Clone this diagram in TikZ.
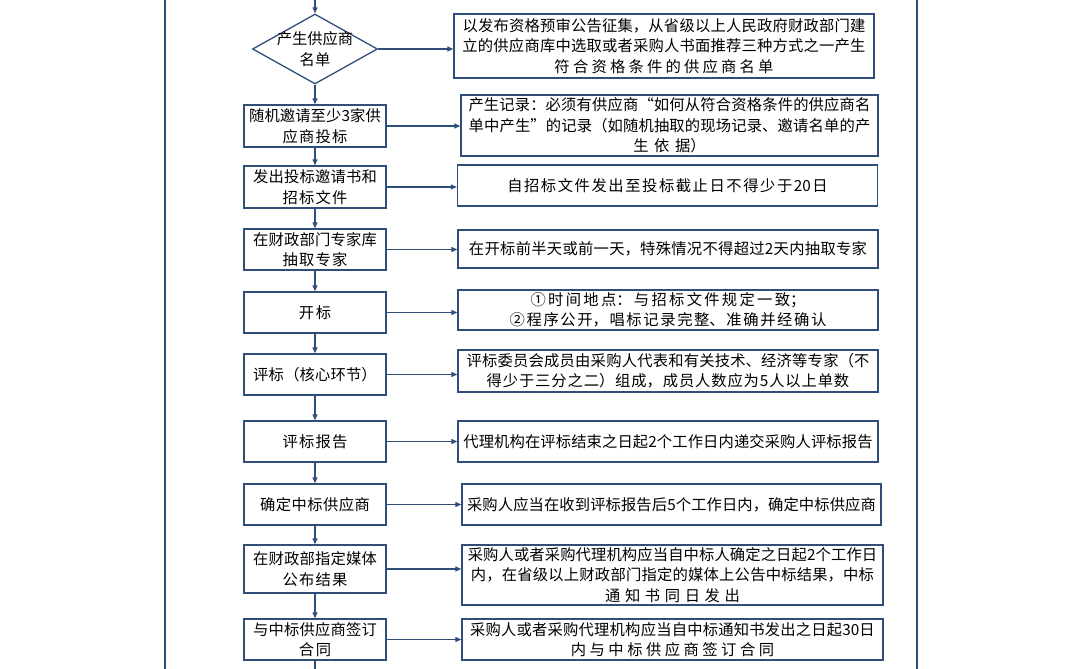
\documentclass[tikz,border=0pt]{standalone}
\usepackage{fontspec}
\setmainfont{Liberation Serif}
\newfontfamily\cjk{Noto Sans CJK SC}
\XeTeXlinebreaklocale "zh"
\XeTeXlinebreakskip=0pt plus 1pt
\usetikzlibrary{shapes.geometric,arrows.meta}
\definecolor{ln}{HTML}{2F4E7A}
\begin{document}
\begin{tikzpicture}[x=1pt,y=-1pt,
  every node/.style={font=\cjk\fontsize{15.3}{20.5}\selectfont,text=black,align=center,inner sep=2pt},
  lbox/.style={draw=ln,line width=1.3pt,minimum width=140pt,text width=138pt},
  rbox/.style={draw=ln,line width=1.3pt},
  arr/.style={draw=ln,line width=1.1pt,-{Triangle[length=6pt,width=5pt]}}]
\useasboundingbox (0,0) rectangle (1080,669);
\draw[ln,line width=1.1pt] (165,0) -- (165,669) (917,0) -- (917,669);
\coordinate (top) at (315,0);
\coordinate (bot) at (315,669);
\node[diamond,draw=ln,line width=1.3pt,minimum width=125pt,minimum height=70pt,inner sep=-4pt,aspect=1.8] (d) at (315,49) {产生供应商\\名单};
\newcommand\LB[4]{\node[lbox,minimum height=#3pt] (#1) at (315,#2) {#4};}
\newcommand\RB[7]{\node[rbox,minimum width=#3pt,minimum height=#4pt,text width=#7pt] (#1) at (#2,#5) {#6};}
\LB{b1}{126}{42}{随机邀请至少3家供\\应商投标}
\LB{b2}{187}{42}{发出投标邀请书和\\招标文件}
\LB{b3}{249.5}{41}{在财政部门专家库\\抽取专家}
\LB{b4}{312.5}{41}{开标}
\LB{b5}{374.5}{41}{评标（核心环节）}
\LB{b6}{441.5}{41}{评标报告}
\LB{b7}{504.5}{41}{确定中标供应商}
\LB{b8}{569}{48}{在财政部指定媒体\\公布结果}
\LB{b9}{639.5}{41}{与中标供应商签订\\合同}
\RB{r0}{664}{418}{64}{46}{以发布资格预审公告征集，从省级以上人民政府财政部门建\\立的供应商库中选取或者采购人书面推荐三种方式之一产生\\符合资格条件的供应商名单}{416}
\RB{r1}{669.5}{415}{61}{125.5}{产生记录：必须有供应商“如何从符合资格条件的供应商名\\单中产生”的记录（如随机抽取的现场记录、邀请名单的产\\生依据）}{413}
\RB{r2}{667.5}{419}{41}{185.5}{自招标文件发出至投标截止日不得少于20日}{416}
\RB{r3}{668}{418}{38}{249}{在开标前半天或前一天，特殊情况不得超过2天内抽取专家}{416}
\RB{r4}{668}{418}{40}{310}{①时间地点：与招标文件规定一致；\\②程序公开，唱标记录完整、准确并经确认}{416}
\RB{r5}{668}{418}{42}{371}{评标委员会成员由采购人代表和有关技术、经济等专家（不\\得少于三分之二）组成，成员人数应为5人以上单数}{416}
\RB{r6}{668}{418}{41}{441.5}{代理机构在评标结束之日起2个工作日内递交采购人评标报告}{416}
\RB{r7}{671.5}{417}{41}{504.5}{采购人应当在收到评标报告后5个工作日内，确定中标供应商}{415}
\RB{r8}{672.5}{419}{60}{575}{采购人或者采购代理机构应当自中标人确定之日起2个工作日\\内，在省级以上财政部门指定的媒体上公告中标结果，中标\\通知书同日发出}{417}
\RB{r9}{672.5}{419}{41}{639.5}{采购人或者采购代理机构应当自中标通知书发出之日起30日\\内与中标供应商签订合同}{417}
\draw[arr] (top) -- (d.north);
\draw[arr] (d) -- (b1);
\foreach \a/\b in {b1/b2,b2/b3,b3/b4,b4/b5,b5/b6,b6/b7,b7/b8,b8/b9} \draw[arr] (\a) -- (\b);
\draw[ln,line width=1.1pt] (b9) -- (bot);
\draw[arr] (d.east) -- (d.east -| r0.west);
\foreach \i in {1,...,9} \draw[arr] (b\i.east) -- (b\i.east -| r\i.west);
\end{tikzpicture}
\end{document}
